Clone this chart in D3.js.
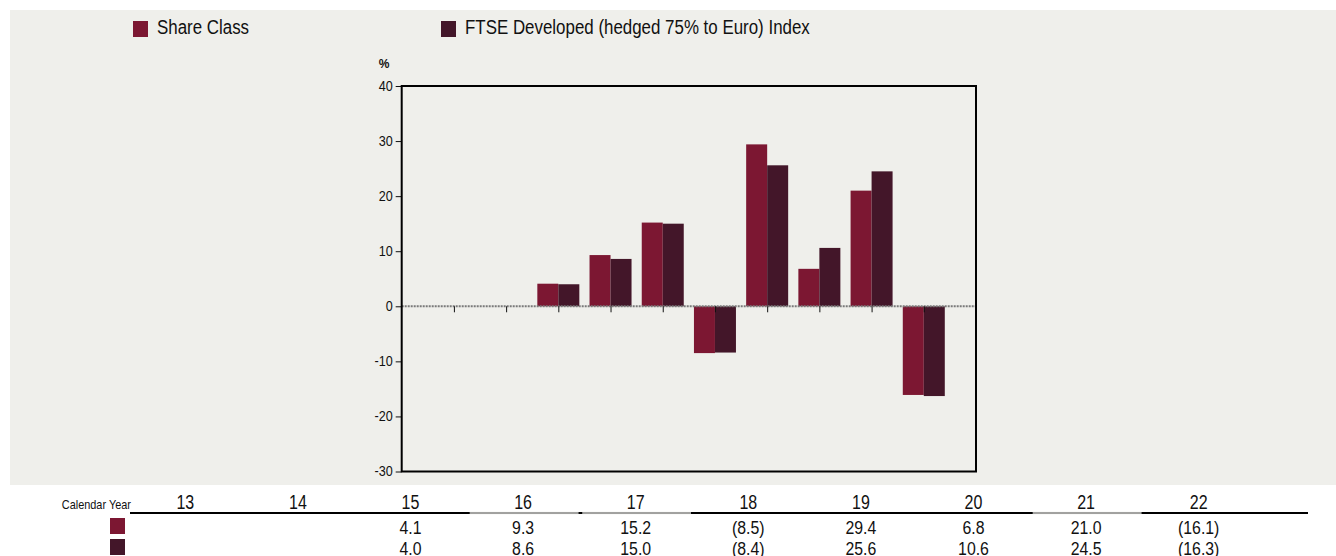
<!DOCTYPE html>
<html>
<head>
<meta charset="utf-8">
<script src="https://cdn.jsdelivr.net/npm/d3@7"></script>
<style>
  body { margin: 0; background: #fff; }
  svg text { font-family: "Liberation Sans", Arial, sans-serif; fill: #111; }
</style>
</head>
<body>
<div id="chart"></div>
<script>
// data
const years = [13, 14, 15, 16, 17, 18, 19, 20, 21, 22];
const shareClass = [null, null, 4.1, 9.3, 15.2, -8.5, 29.4, 6.8, 21.0, -16.1];
const ftseIndex = [null, null, 4.0, 8.6, 15.0, -8.4, 25.6, 10.6, 24.5, -16.3];
const yTicks = [-30, -20, -10, 0, 10, 20, 30, 40];
const seriesNames = ["Share Class", "FTSE Developed (hedged 75% to Euro) Index"];
const colors = ["#7c1732", "#431629"];

const W = 1336, H = 556;
const plot = { left: 401.7, right: 976, top: 86, bottom: 471.5 };

// the original uses a condensed face; squeeze the glyphs horizontally
function narrow(sel, k) {
  sel.each(function() {
    const w = this.getComputedTextLength();
    if (w > 0) d3.select(this).attr("textLength", w * k).attr("lengthAdjust", "spacingAndGlyphs");
  });
}

const svg = d3.select("#chart").append("svg")
  .attr("width", W).attr("height", H);

// grey panel
svg.append("rect").attr("x", 10).attr("y", 10)
  .attr("width", W - 10).attr("height", 475)
  .attr("fill", "#efefeb");

const x = d3.scaleLinear().domain([12, 23]).range([plot.left, plot.right]);
const y = d3.scaleLinear().domain([-30, 40]).range([plot.bottom, plot.top]);
const barW = 21;

// legend
const legend = svg.append("g");
const legX = [133, 441];
seriesNames.forEach((name, i) => {
  legend.append("rect").attr("x", legX[i]).attr("y", 21)
    .attr("width", 15).attr("height", 16).attr("fill", colors[i]);
  legend.append("text").attr("x", legX[i] + 24).attr("y", 34)
    .attr("font-size", 20).text(name);
});
narrow(legend.selectAll("text"), 0.845);

// bars
const bars = svg.append("g");
[shareClass, ftseIndex].forEach((vals, s) => {
  bars.selectAll(null)
    .data(years.map((yr, i) => ({ yr, v: vals[i] })).filter(d => d.v != null))
    .enter().append("rect")
    .attr("x", d => x(d.yr) - barW + s * barW)
    .attr("y", d => y(Math.max(0, d.v)))
    .attr("width", barW)
    .attr("height", d => Math.abs(y(d.v) - y(0)))
    .attr("fill", colors[s]);
});

// zero line
svg.append("line")
  .attr("x1", plot.left).attr("x2", plot.right)
  .attr("y1", y(0)).attr("y2", y(0))
  .attr("stroke", "#7a7a7a").attr("stroke-width", 2)
  .attr("stroke-dasharray", "2,1");

// x ticks on zero line
const xAxis = svg.append("g")
  .attr("transform", `translate(0,${y(0)})`)
  .call(d3.axisBottom(x).tickValues(years).tickSize(6).tickFormat(""));
xAxis.select(".domain").remove();
xAxis.selectAll(".tick line").attr("stroke", "#111");

// y axis
const yAxis = svg.append("g")
  .attr("transform", `translate(${plot.left},0)`)
  .call(d3.axisLeft(y).tickValues(yTicks).tickSize(6).tickPadding(3).tickFormat(d => String(d)));
yAxis.select(".domain").remove();
yAxis.selectAll(".tick text").attr("font-size", 14)
  .attr("font-family", null).style("fill", "#111");
yAxis.selectAll(".tick line").attr("stroke", "#111");
narrow(yAxis.selectAll(".tick text"), 0.9);

svg.append("text").attr("x", 384).attr("y", 68)
  .attr("text-anchor", "middle").attr("font-size", 12)
  .attr("font-weight", "bold").text("%");

// frame
svg.append("rect")
  .attr("x", plot.left).attr("y", plot.top)
  .attr("width", plot.right - plot.left).attr("height", plot.bottom - plot.top)
  .attr("fill", "none").attr("stroke", "#000").attr("stroke-width", 2);

// table
const col = d3.scaleBand().domain(years).range([129, 1255]);
const table = svg.append("g");
table.append("text").attr("x", 131).attr("y", 509)
  .attr("text-anchor", "end").attr("font-size", 13).text("Calendar Year")
  .call(narrow, 0.84);

// header rule: black, lighter under a few columns
const lightCols = [16, 17, 21];
table.append("line").attr("x1", 130).attr("x2", 1308)
  .attr("y1", 513).attr("y2", 513)
  .attr("stroke", "#000").attr("stroke-width", 2);
lightCols.forEach(c => {
  table.append("line")
    .attr("x1", col(c) + 3).attr("x2", col(c) + col.bandwidth() - 1)
    .attr("y1", 513).attr("y2", 513)
    .attr("stroke", "#efefeb").attr("stroke-width", 2.5);
  table.append("line")
    .attr("x1", col(c) + 3).attr("x2", col(c) + col.bandwidth() - 1)
    .attr("y1", 513).attr("y2", 513)
    .attr("stroke", "#555").attr("stroke-width", 1);
});

table.selectAll(".yr").data(years).enter().append("text")
  .attr("x", d => col(d) + col.bandwidth() / 2).attr("y", 509)
  .attr("text-anchor", "middle").attr("font-size", 20)
  .text(d => d)
  .call(narrow, 0.8);

const fmt = v => v == null ? "" : (v < 0 ? `(${Math.abs(v).toFixed(1)})` : v.toFixed(1));
[shareClass, ftseIndex].forEach((vals, s) => {
  const rowY = 534 + s * 21;
  table.append("rect").attr("x", 110).attr("y", rowY - 16)
    .attr("width", 15).attr("height", 16).attr("fill", colors[s]);
  table.selectAll(null).data(years.map((yr, i) => ({ yr, v: vals[i] }))).enter()
    .append("text")
    .attr("x", d => col(d.yr) + col.bandwidth() / 2).attr("y", rowY)
    .attr("text-anchor", "middle").attr("font-size", 18)
    .text(d => fmt(d.v))
    .call(narrow, 0.88);
});
</script>
</body>
</html>
